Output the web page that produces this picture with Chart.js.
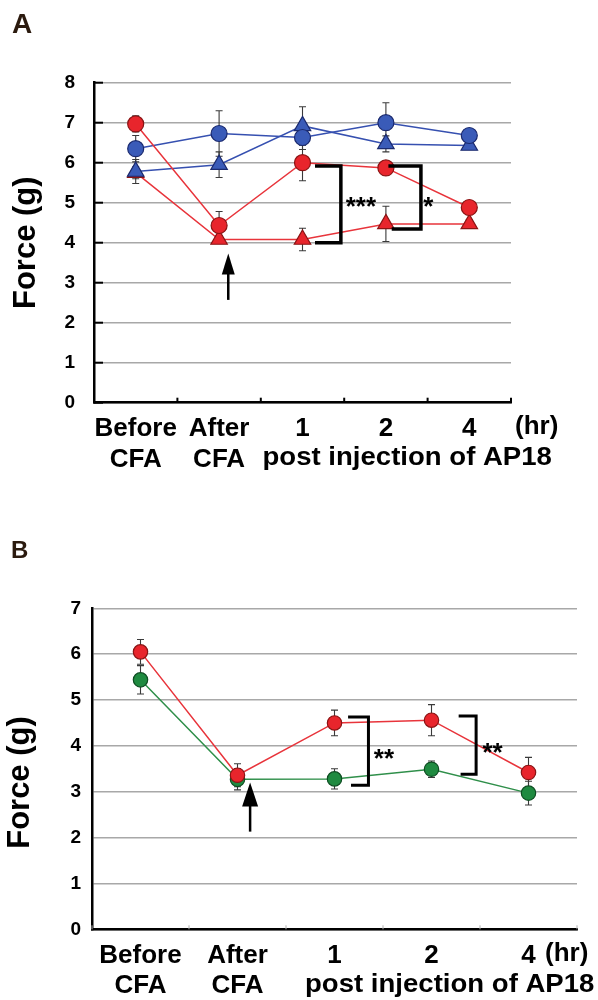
<!DOCTYPE html>
<html>
<head>
<meta charset="utf-8">
<script src="https://cdn.jsdelivr.net/npm/chart.js@4.4.1/dist/chart.umd.min.js"></script>
<style>
  html, body { margin: 0; padding: 0; background: #ffffff; }
  body { width: 598px; height: 1000px; position: relative; overflow: hidden; }
  #ca { position: absolute; left: 0; top: 0; }
  #cb { position: absolute; left: 0; top: 500px; }
</style>
</head>
<body>
<canvas id="ca" width="598" height="500"></canvas>
<canvas id="cb" width="598" height="500"></canvas>
<script>
// ---------------- DATA ----------------
const categories = [['Before', 'CFA'], ['After', 'CFA'], '1', '2', '4'];

// Panel A
const redCircleA     = [6.97, 4.43, 6.00, 5.87, 4.88];
const redCircleSemA  = [0.20, 0.35, 0.45, 0.15, 0.12];
const redTriA        = [5.75, 4.08, 4.08, 4.47, 4.47];
const redTriSemA     = [0.15, 0.10, 0.28, 0.44, 0.10];
const blueCircleA    = [6.35, 6.73, 6.63, 7.00, 6.68];
const blueCircleSemA = [0.33, 0.57, 0.30, 0.50, 0.15];
const blueTriA       = [5.78, 5.95, 6.92, 6.47, 6.43];
const blueTriSemA    = [0.30, 0.32, 0.48, 0.20, 0.10];
const yTicksA = [0, 1, 2, 3, 4, 5, 6, 7, 8];

// Panel B
const redB      = [6.05, 3.36, 4.50, 4.56, 3.42];
const redSemB   = [0.27, 0.25, 0.28, 0.34, 0.33];
const greenB    = [5.44, 3.27, 3.28, 3.49, 2.97];
const greenSemB = [0.31, 0.23, 0.22, 0.18, 0.26];
const yTicksB = [0, 1, 2, 3, 4, 5, 6, 7];

// Significance annotations (category index / value units)
const sigA = [
  { x0: 2.15, x1: 2.15, xv: 2.46, top: 5.92, bot: 4.00, label: '***', lx: 2.70, ly: 5.08 },
  { x0: 3.03, x1: 3.07, xv: 3.42, top: 5.92, bot: 4.34, label: '*',   lx: 3.51, ly: 5.08 }
];
const sigB = [
  { x0: 2.14, x1: 2.17, xv: 2.35, top: 4.63, bot: 3.14, label: '**', lx: 2.51, ly: 3.87 },
  { x0: 3.28, x1: 3.30, xv: 3.46, top: 4.65, bot: 3.38, label: '**', lx: 3.63, ly: 4.00 }
];
const arrowA = { x: 1.11, tip: 3.73, base: 2.57 };
const arrowB = { x: 1.13, tip: 3.20, base: 2.13 };

// ---------------- STYLE ----------------
const FONT = "'Liberation Sans', Arial, Helvetica, sans-serif";
Chart.defaults.font.family = FONT;
Chart.defaults.color = '#000';

const RED = '#e8252c', RED_EDGE = '#8a1414', RED_LINE = '#e8343b';
const BLUE = '#3a5bb8', BLUE_EDGE = '#1b2a6e', BLUE_LINE = '#3650b0';
const GREEN = '#1f8a40', GREEN_EDGE = '#0e4d22', GREEN_LINE = '#2f8f4a';

function txt(ctx, s, x, y, size, align, sx, baseline) {
  ctx.save();
  ctx.font = 'bold ' + size + 'px ' + FONT;
  ctx.fillStyle = '#000';
  ctx.textAlign = align || 'left';
  ctx.textBaseline = baseline || 'middle';
  ctx.translate(x, y);
  ctx.scale(sx || 1, 1);
  ctx.fillText(s, 0, 0);
  ctx.restore();
}

function makeExtras(cfg) {
  return {
    id: 'extras',
    beforeDatasetsDraw(chart) {
      const ctx = chart.ctx, ys = chart.scales.y;
      ctx.save();
      ctx.strokeStyle = '#3a3a3a';
      ctx.lineWidth = 1.1;
      cfg.sems.forEach((sem, di) => {
        if (!sem) return;
        const meta = chart.getDatasetMeta(di);
        const vals = chart.data.datasets[di].data;
        meta.data.forEach((pt, j) => {
          const x = pt.x;
          const y1 = ys.getPixelForValue(vals[j] + sem[j]);
          const y2 = ys.getPixelForValue(vals[j] - sem[j]);
          ctx.beginPath();
          ctx.moveTo(x, y1); ctx.lineTo(x, y2);
          ctx.moveTo(x - 3.5, y1); ctx.lineTo(x + 3.5, y1);
          ctx.moveTo(x - 3.5, y2); ctx.lineTo(x + 3.5, y2);
          ctx.stroke();
        });
      });
      ctx.restore();
    },
    afterDraw(chart) {
      const ctx = chart.ctx, xs = chart.scales.x, ys = chart.scales.y;
      const area = chart.chartArea;
      ctx.save();
      // axis tick marks
      if (cfg.yInTicks) {
        ctx.strokeStyle = '#000'; ctx.lineWidth = 2;
        cfg.yTicks.forEach(v => {
          const y = ys.getPixelForValue(v);
          ctx.beginPath(); ctx.moveTo(area.left, y); ctx.lineTo(area.left + 9, y); ctx.stroke();
        });
      }
      ctx.strokeStyle = cfg.xTickColor; ctx.lineWidth = cfg.xTickWidth;
      for (let k = 0; k <= chart.data.labels.length; k++) {
        const x = xs.getPixelForValue(k - 0.5);
        ctx.beginPath(); ctx.moveTo(x, area.bottom); ctx.lineTo(x, area.bottom - cfg.xTickLen); ctx.stroke();
      }
      // brackets
      ctx.strokeStyle = '#000'; ctx.lineWidth = cfg.bracketWidth; ctx.lineJoin = 'miter'; ctx.lineCap = 'butt';
      cfg.sig.forEach(s => {
        const xa = xs.getPixelForValue(s.x0), xb = xs.getPixelForValue(s.x1), xv = xs.getPixelForValue(s.xv);
        const yt = ys.getPixelForValue(s.top), yb = ys.getPixelForValue(s.bot);
        ctx.beginPath();
        ctx.moveTo(xa, yt); ctx.lineTo(xv, yt); ctx.lineTo(xv, yb); ctx.lineTo(xb, yb);
        ctx.stroke();
        txt(ctx, s.label, xs.getPixelForValue(s.lx), ys.getPixelForValue(s.ly) + 0.58 * cfg.starSize,
            cfg.starSize, 'center', 1, 'alphabetic');
      });
      // arrow
      const a = cfg.arrow;
      const ax = xs.getPixelForValue(a.x), at = ys.getPixelForValue(a.tip), ab = ys.getPixelForValue(a.base);
      ctx.fillStyle = '#000'; ctx.lineWidth = 2.5;
      ctx.beginPath(); ctx.moveTo(ax, ab); ctx.lineTo(ax, at + cfg.headLen - 2); ctx.stroke();
      ctx.beginPath();
      ctx.moveTo(ax, at); ctx.lineTo(ax - cfg.headHalf, at + cfg.headLen); ctx.lineTo(ax + cfg.headHalf, at + cfg.headLen);
      ctx.closePath(); ctx.fill();
      ctx.restore();
      // texts
      ctx.save();
      ctx.fillStyle = cfg.letterColor;
      ctx.font = 'bold ' + cfg.letter.size + 'px ' + FONT;
      ctx.textBaseline = 'alphabetic';
      ctx.fillText(cfg.letter.text, cfg.letter.x, cfg.letter.y);
      ctx.restore();
      ctx.save();
      ctx.translate(cfg.yTitle.x, cfg.yTitle.y);
      ctx.rotate(-Math.PI / 2);
      txt(ctx, 'Force (g)', 0, 0, cfg.yTitle.size, 'center', 1, 'middle');
      ctx.restore();
      txt(ctx, '(hr)', cfg.hr.x, cfg.hr.y, 26, 'left', 1.0);
      txt(ctx, 'post injection of AP18', cfg.post.x, cfg.post.y, 26, 'left', 1.06);
    }
  };
}

function makeChart(id, datasets, yMax, geom, extras) {
  return new Chart(document.getElementById(id), {
    type: 'line',
    data: { labels: categories, datasets: datasets },
    options: {
      responsive: false,
      animation: false,
      events: [],
      layout: { padding: { left: 0, right: geom.padRight, top: geom.padTop, bottom: geom.padBottom } },
      plugins: { legend: { display: false }, tooltip: { enabled: false } },
      scales: {
        x: {
          type: 'category',
          offset: true,
          grid: { display: false },
          border: { display: true, color: '#000', width: 2.5 },
          ticks: {
            autoSkip: false, maxRotation: 0, minRotation: 0,
            padding: geom.xPad, color: '#000',
            font: { size: 26, weight: 'bold', lineHeight: geom.xLine }
          },
          afterFit(s) { s.height = 70; }
        },
        y: {
          min: 0, max: yMax,
          ticks: { stepSize: 1, padding: geom.yPad, color: '#000', font: { size: 19, weight: 'bold' } },
          grid: { color: '#a8a8a8', lineWidth: 1.6, drawTicks: false },
          border: { display: true, color: '#000', width: 2.5 },
          afterFit(s) { s.width = geom.left; }
        }
      }
    },
    plugins: [makeExtras(extras)]
  });
}

function ds(data, style, fill, edge, line, r) {
  return {
    data: data, borderColor: line, borderWidth: 1.5, tension: 0, fill: false,
    pointStyle: style, pointRadius: r, pointBackgroundColor: fill,
    pointBorderColor: edge, pointBorderWidth: 1.2
  };
}

// Panel A (dataset 0 is drawn on top)
makeChart('ca', [
  ds(redCircleA, 'circle', RED, RED_EDGE, RED_LINE, 8),
  ds(blueCircleA, 'circle', BLUE, BLUE_EDGE, BLUE_LINE, 8),
  ds(blueTriA, 'triangle', BLUE, BLUE_EDGE, BLUE_LINE, 9.5),
  ds(redTriA, 'triangle', RED, RED_EDGE, RED_LINE, 9.5)
], 8,
{ left: 94, padRight: 87, padTop: 82.7, padBottom: 500 - 402.7 - 70, xPad: 2, xLine: 1.22, yPad: 19 },
{
  sems: [redCircleSemA, blueCircleSemA, blueTriSemA, redTriSemA],
  yTicks: yTicksA, yInTicks: true, xTickColor: '#000', xTickWidth: 2, xTickLen: 5,
  sig: sigA, bracketWidth: 3.5, starSize: 26,
  arrow: arrowA, headLen: 21, headHalf: 6.5,
  letter: { text: 'A', x: 12, y: 33.3, size: 28 }, letterColor: '#2b1a0e',
  yTitle: { x: 26.7, y: 242.7, size: 31 },
  hr: { x: 515, y: 426.7 }, post: { x: 262.5, y: 458.3 }
});

// Panel B
makeChart('cb', [
  ds(redB, 'circle', RED, RED_EDGE, RED_LINE, 7.2),
  ds(greenB, 'circle', GREEN, GREEN_EDGE, GREEN_LINE, 7.2)
], 7,
{ left: 92, padRight: 21, padTop: 108.3, padBottom: 500 - 429.3 - 70, xPad: 3, xLine: 1.18, yPad: 11 },
{
  sems: [redSemB, greenSemB],
  yTicks: yTicksB, yInTicks: false, xTickColor: '#b0b0b0', xTickWidth: 1, xTickLen: 4,
  sig: sigB, bracketWidth: 3, starSize: 26,
  arrow: arrowB, headLen: 24, headHalf: 8,
  letter: { text: 'B', x: 11, y: 58.3, size: 24 }, letterColor: '#2b1a0e',
  yTitle: { x: 20, y: 282.5, size: 31 },
  hr: { x: 545, y: 454.3 }, post: { x: 305, y: 485 }
});
</script>
</body>
</html>
